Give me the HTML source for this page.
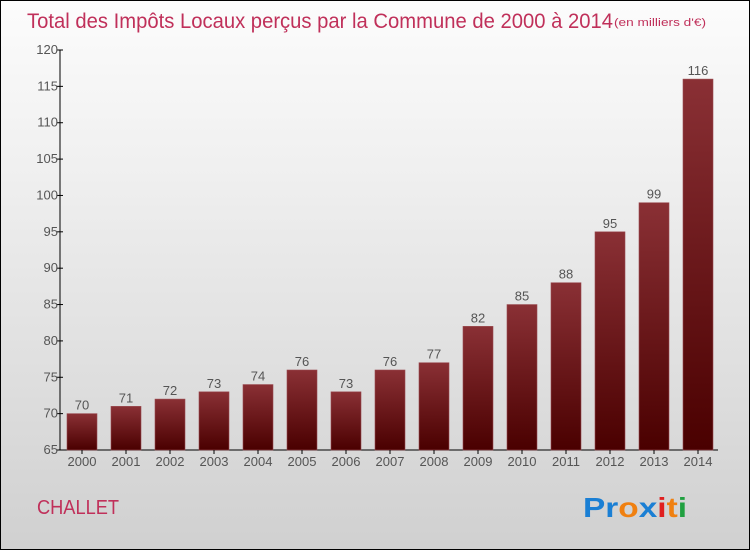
<!DOCTYPE html>
<html><head><meta charset="utf-8"><style>
body{margin:0}
#c{position:relative;width:748px;height:548px;border:1px solid #000;background:linear-gradient(#fcfcfc,#f0f0f0 30%,#d0d0d0);font-family:"Liberation Sans",sans-serif;overflow:hidden}
</style></head><body>
<div id="c">
<svg id="s" width="748" height="548" font-family="Liberation Sans, sans-serif">
<defs><linearGradient id="g" x1="0" y1="0" x2="0" y2="1"><stop offset="0" stop-color="#8a3035"/><stop offset="1" stop-color="#4a0000"/></linearGradient></defs>
<text x="26" y="27" font-size="21" fill="#c0305a" textLength="586" lengthAdjust="spacingAndGlyphs">Total des Impôts Locaux perçus par la Commune de 2000 à 2014</text>
<text x="613" y="25" font-size="11" fill="#c0305a" textLength="92" lengthAdjust="spacingAndGlyphs">(en milliers d'€)</text>
<text x="36" y="513" font-size="20" fill="#c0305a" textLength="82" lengthAdjust="spacingAndGlyphs">CHALLET</text>
<g font-size="28" font-weight="bold"><text x="582" y="516" textLength="104" lengthAdjust="spacingAndGlyphs"><tspan fill="#1a7fd4">Pr</tspan><tspan fill="#f08010">o</tspan><tspan fill="#1a7fd4">x</tspan><tspan fill="#e02020">i</tspan><tspan fill="#f08010">t</tspan><tspan fill="#20a040">i</tspan></text></g>
<g id="plot"></g>
</svg>
</div>
<script>
const categories=["2000","2001","2002","2003","2004","2005","2006","2007","2008","2009","2010","2011","2012","2013","2014"];
const values=[70,71,72,73,74,76,73,76,77,82,85,88,95,99,116];
const yTicks=[65,70,75,80,85,90,95,100,105,110,115,120];
const NS="http://www.w3.org/2000/svg";
const g=document.getElementById('plot');
const y=v=>449-(v-65)*400/55;
const x=i=>81+i*44;
function mk(t,a){const e=document.createElementNS(NS,t);for(const k in a)e.setAttribute(k,a[k]);g.appendChild(e);return e;}
let e=mk('line',{x1:59,y1:49,x2:59,y2:449,stroke:'#000'});


e=mk('line',{x1:59,y1:449,x2:717,y2:449,stroke:'#000'});


yTicks.forEach(v=>{
 let t=mk('line',{x1:56,y1:y(v),x2:62,y2:y(v),stroke:'#000'});
 
 
 let l=mk('text',{x:57,y:y(v)+4,'text-anchor':'end','font-size':13,fill:'#555'});
 l.textContent=v;
 
 
});
categories.forEach((c,i)=>{
 let b=mk('rect',{x:x(i)-15,y:y(values[i]),width:30,height:449-y(values[i]),fill:'url(#g)',stroke:'#9a4a50','stroke-width':0.6});
 
 
 let t=mk('line',{x1:x(i),y1:449,x2:x(i),y2:453,stroke:'#000'});
 
 
 let l=mk('text',{x:x(i),y:465,'text-anchor':'middle','font-size':13,fill:'#555'});
 l.textContent=c;
 
 
 let v=mk('text',{x:x(i),y:y(values[i])-4,'text-anchor':'middle','font-size':13,fill:'#555'});
 v.textContent=values[i];
 
 
});
</script>
</body></html>
